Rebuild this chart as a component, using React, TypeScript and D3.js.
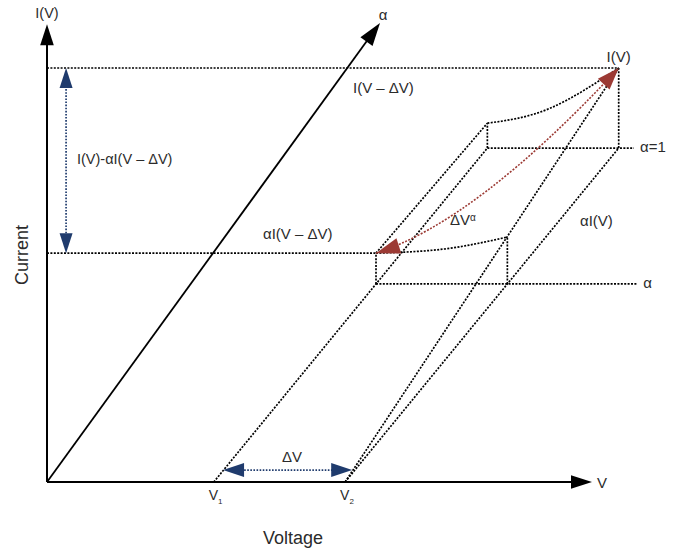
import React from "react";
import * as d3 from "d3";

const W = 682;
const H = 551;

// ---- scales (voltage horizontal, current vertical) ----
const voltageDomain = [0, 10];
const voltageRange = [47, 592];
const currentDomain = [0, 10];
const currentRange = [482, 22];

// ---- marks on the voltage axis ----
const voltageMarkNames = ["V", "V"];
const voltageMarkSubs = ["1", "2"];
const voltageValues = [3.06, 5.47];

// ---- alpha planes ----
const alphaLevels = [0.593, 1];
const alphaLevelLabels = ["α", "α=1"];
const alphaDirection = [5.02, 7.26]; // (V, I) shift for alpha = 1
const alphaLineEnds = [10.83, 10.77];
const alphaAxisEnd = [6.11, 9.98];

// ---- current heights above each plane ----
const currentAtV1 = [0.67, 0.54]; // αI(V-ΔV), I(V-ΔV)
const currentAtV2 = [1.02, 1.74]; // αI(V), I(V)
const curveMidV = [4.31, 4.2];
const curveMidI = [0.76, 0.86];

// ---- annotations ----
const redCurveMid = [8.07, 6.33];
const gapArrowV = 0.35;
const deltaVArrowEnds = [3.23, 5.6];
const deltaVArrowI = 0.26;
const axisTip = 9.95;

const INK = "#000";
const TXT = "#2b2b2b";
const BLUE = "#1f3b6d";
const RED = "#9c3a34";
const FONT = "'Liberation Sans', Arial, Helvetica, sans-serif";

type Pt = [number, number];

function head(tip: Pt, from: Pt, L: number, w: number) {
  const dx = tip[0] - from[0];
  const dy = tip[1] - from[1];
  const len = Math.hypot(dx, dy);
  const ux = dx / len, uy = dy / len;
  const bx = tip[0] - ux * L, by = tip[1] - uy * L;
  const nx = -uy, ny = ux;
  return `M${tip[0]},${tip[1]}L${bx + nx * w},${by + ny * w}L${bx - nx * w},${by - ny * w}Z`;
}

function back(tip: Pt, from: Pt, L: number): Pt {
  const dx = tip[0] - from[0];
  const dy = tip[1] - from[1];
  const len = Math.hypot(dx, dy);
  return [tip[0] - (dx / len) * L, tip[1] - (dy / len) * L];
}

export default function App() {
  const xs = d3.scaleLinear().domain(voltageDomain).range(voltageRange);
  const ys = d3.scaleLinear().domain(currentDomain).range(currentRange);
  const P = (v: number, a: number, i: number): Pt => [
    xs(v + a * alphaDirection[0]),
    ys(i + a * alphaDirection[1]),
  ];
  const line = d3.line<Pt>();
  const curve = d3.line<Pt>().curve(d3.curveNatural);

  const [V1, V2] = voltageValues;
  const origin: Pt = [xs(0), ys(0)];

  const dotted = {
    fill: "none",
    stroke: INK,
    strokeWidth: 1.7,
    strokeDasharray: "2 1.4",
  } as const;

  const elems: React.ReactNode[] = [];

  // planes
  alphaLevels.forEach((a, k) => {
    const p1base = P(V1, a, 0);
    const p2base = P(V2, a, 0);
    const p1top = P(V1, a, currentAtV1[k]);
    const p2top = P(V2, a, currentAtV2[k]);
    const mid = P(curveMidV[k], a, curveMidI[k]);
    const endX = xs(alphaLineEnds[k]);
    elems.push(
      <g key={"plane" + k}>
        <path d={line([p1base, [endX, p1base[1]]]) || ""} {...dotted} />
        <path d={line([p1base, p1top]) || ""} {...dotted} />
        <path d={line([p2base, p2top]) || ""} {...dotted} />
        <path d={curve([p1top, mid, p2top]) || ""} {...dotted} />
        <text x={endX + 6} y={p1base[1] + 4} fontSize={15} fill={TXT} fontFamily={FONT}>
          {alphaLevelLabels[k]}
        </text>
      </g>
    );
  });

  const aLow = alphaLevels[0];
  const aTop = alphaLevels[1];
  const ivTop = P(V2, aTop, currentAtV2[1]);
  const ivdvLow = P(V1, aLow, currentAtV1[0]);
  const ivdvTop = P(V1, aTop, currentAtV1[1]);

  // slanted construction lines
  const slants: [Pt, Pt][] = [
    [P(V1, 0, 0), P(V1, aTop, 0)],
    [P(V2, 0, 0), P(V2, aTop, 0)],
    [P(V2, 0, 0), ivTop],
    [ivdvLow, ivdvTop],
  ];

  // projection lines to the current axis
  const proj: [Pt, Pt][] = [
    [[xs(0), ivTop[1]], ivTop],
    [[xs(0), ivdvLow[1]], ivdvLow],
  ];

  // red curve
  const M: Pt = [xs(redCurveMid[0]), ys(redCurveMid[1])];
  const C: Pt = [
    2 * M[0] - (ivdvLow[0] + ivTop[0]) / 2,
    2 * M[1] - (ivdvLow[1] + ivTop[1]) / 2,
  ];
  const redPath = d3.path();
  redPath.moveTo(ivdvLow[0], ivdvLow[1]);
  redPath.quadraticCurveTo(C[0], C[1], ivTop[0], ivTop[1]);

  // blue vertical arrow
  const gx = xs(gapArrowV);
  const gTop: Pt = [gx, ivTop[1]];
  const gBot: Pt = [gx, ivdvLow[1]];
  // blue horizontal arrow
  const dy = ys(deltaVArrowI);
  const dL: Pt = [xs(deltaVArrowEnds[0]), dy];
  const dR: Pt = [xs(deltaVArrowEnds[1]), dy];

  // axes
  const yTip: Pt = [xs(0), ys(axisTip)];
  const xTip: Pt = [xs(10), ys(0)];
  const aTip: Pt = [xs(alphaAxisEnd[0]), ys(alphaAxisEnd[1])];

  return (
    <svg
      width={W}
      height={H}
      style={{ position: "absolute", left: 0, top: 0, background: "#fff" }}
      fontFamily={FONT}
    >
      <rect width={W} height={H} fill="#fff" />
      {elems}
      {slants.map((s, k) => (
        <path key={"s" + k} d={line(s) || ""} {...dotted} />
      ))}
      {proj.map((s, k) => (
        <path key={"p" + k} d={line(s) || ""} {...dotted} />
      ))}

      {/* red curved arrow */}
      <path d={redPath.toString()} fill="none" stroke={RED} strokeWidth={1.6} strokeDasharray="2 1.5" />
      <path d={head(ivTop, C, 22, 8)} fill={RED} />
      <path d={head(ivdvLow, C, 24, 8)} fill={RED} />

      {/* blue vertical double arrow */}
      <path
        d={line([back(gTop, gBot, 18), back(gBot, gTop, 18)]) || ""}
        fill="none"
        stroke={BLUE}
        strokeWidth={1.7}
        strokeDasharray="1.6 1.5"
      />
      <path d={head(gTop, gBot, 20, 6.5)} fill={BLUE} />
      <path d={head(gBot, gTop, 20, 6.5)} fill={BLUE} />

      {/* blue ΔV double arrow */}
      <path
        d={line([back(dL, dR, 18), back(dR, dL, 18)]) || ""}
        fill="none"
        stroke={BLUE}
        strokeWidth={1.7}
        strokeDasharray="1.6 1.5"
      />
      <path d={head(dL, dR, 21, 7)} fill={BLUE} />
      <path d={head(dR, dL, 21, 7)} fill={BLUE} />

      {/* axes */}
      <path d={line([origin, back(yTip, origin, 15)]) || ""} stroke={INK} strokeWidth={2} fill="none" />
      <path d={head(yTip, origin, 21, 6.8)} fill={INK} />
      <path d={line([origin, back(xTip, origin, 15)]) || ""} stroke={INK} strokeWidth={2} fill="none" />
      <path d={head(xTip, origin, 21, 6.8)} fill={INK} />
      <path d={line([origin, back(aTip, origin, 15)]) || ""} stroke={INK} strokeWidth={1.8} fill="none" />
      <path d={head(aTip, origin, 23, 7.5)} fill={INK} />

      {/* axis labels */}
      <text x={yTip[0]} y={18} fontSize={14.5} fill={TXT} textAnchor="middle">I(V)</text>
      <text x={aTip[0] + 3} y={20} fontSize={15} fill={TXT} textAnchor="middle">α</text>
      <text x={xTip[0] + 5} y={xTip[1] + 5.5} fontSize={15} fill={TXT}>V</text>
      {voltageValues.map((v, k) => (
        <text key={"vl" + k} x={xs(v) - 5} y={500} fontSize={14} fill={TXT}>
          {voltageMarkNames[k]}
          <tspan fontSize={8} dy={4}>{voltageMarkSubs[k]}</tspan>
        </text>
      ))}
      <text x={293} y={544} fontSize={18} fill={TXT} textAnchor="middle">Voltage</text>
      <text
        transform={`translate(27.5,255) rotate(-90)`}
        fontSize={18}
        fill={TXT}
        textAnchor="middle"
      >
        Current
      </text>

      {/* annotations */}
      <text x={77} y={164} fontSize={14.5} fill={TXT}>I(V)-αI(V – ΔV)</text>
      <text x={353} y={93} fontSize={15} fill={TXT}>I(V – ΔV)</text>
      <text x={ivTop[0]} y={62} fontSize={15} fill={TXT} textAnchor="middle">I(V)</text>
      <text x={263} y={239} fontSize={15} fill={TXT}>αI(V – ΔV)</text>
      <text x={580} y={226} fontSize={15} fill={TXT}>αI(V)</text>
      <text x={450} y={225} fontSize={15} fill={TXT}>
        ΔV<tspan fontSize={10} dy={-4}>α</tspan>
      </text>
      <text x={292} y={462} fontSize={15} fill={TXT} textAnchor="middle">ΔV</text>
    </svg>
  );
}
